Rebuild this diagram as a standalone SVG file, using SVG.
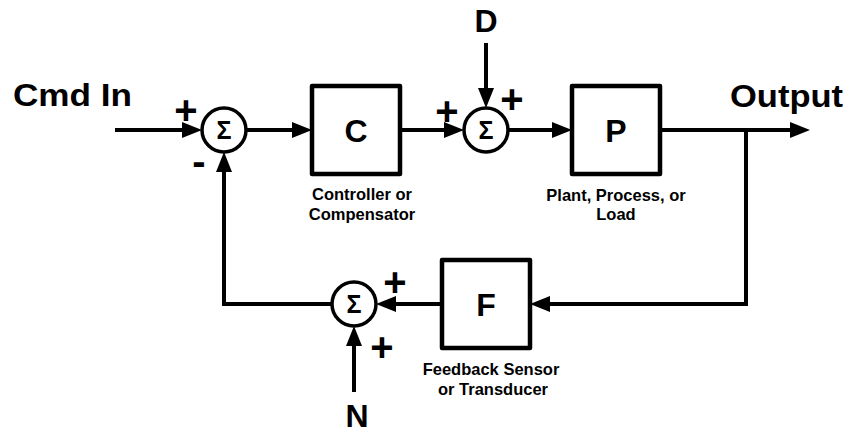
<svg xmlns="http://www.w3.org/2000/svg" width="849" height="434" viewBox="0 0 849 434">
<style>
.ln{fill:none;stroke:#000;stroke-width:4;marker-end:url(#ah)}
.box{fill:#fff;stroke:#000;stroke-width:4.5;stroke-linejoin:round}
.sum{fill:#fff;stroke:#000;stroke-width:3.5}
text{font-family:"Liberation Sans",Arial,sans-serif;font-weight:bold;fill:#000}
.big{font-size:32px}
.blk{font-size:32px;text-anchor:middle}
.sig{font-size:25px;text-anchor:middle}
.lbl{font-size:16.5px;text-anchor:middle}
.pm{font-size:40px;text-anchor:middle}
</style>
<defs>
<marker id="ah" markerUnits="userSpaceOnUse" markerWidth="20" markerHeight="16" refX="10" refY="8" orient="auto">
<path d="M0,0 L20,8 L0,16 z" fill="#000"/>
</marker>
</defs>
<g id="connectors">
<path class="ln" d="M115,130 H192"/>
<path class="ln" d="M246,130 H302"/>
<path class="ln" d="M400,130 H454"/>
<path class="ln" d="M486,43 V98"/>
<path class="ln" d="M508,130 H562"/>
<path class="ln" d="M660,130 H800"/>
<path class="ln" d="M746,128 V304 H540"/>
<path class="ln" d="M442,304 H386"/>
<path class="ln" d="M354,392 V336"/>
<path class="ln" d="M332,304 H224 V162"/>
</g>
<g id="input"><text class="big" x="13" y="106" textLength="119" lengthAdjust="spacingAndGlyphs">Cmd In</text></g>
<g id="output"><text class="big" x="730" y="107" textLength="113" lengthAdjust="spacingAndGlyphs">Output</text></g>
<g id="sum1">
<circle class="sum" cx="224" cy="130" r="22"/>
<text class="sig" x="224" y="139">Σ</text>
<text class="pm" x="186" y="124">+</text>
<text class="pm" x="199" y="175">-</text>
</g>
<g id="C">
<rect class="box" x="312" y="86" width="88" height="88"/>
<text class="blk" x="356" y="141.5">C</text>
<text class="lbl" x="362" y="200">Controller or</text>
<text class="lbl" x="362" y="220">Compensator</text>
</g>
<g id="D"><text class="blk" x="486" y="32">D</text></g>
<g id="sum2">
<circle class="sum" cx="486" cy="130" r="22"/>
<text class="sig" x="486" y="139">Σ</text>
<text class="pm" x="447" y="125">+</text>
<text class="pm" x="512" y="113">+</text>
</g>
<g id="P">
<rect class="box" x="572" y="86" width="88" height="88"/>
<text class="blk" x="616" y="141.5">P</text>
<text class="lbl" x="616" y="201">Plant, Process, or</text>
<text class="lbl" x="616" y="220">Load</text>
</g>
<g id="F">
<rect class="box" x="442" y="260" width="88" height="88"/>
<text class="blk" x="486" y="315.5">F</text>
<text class="lbl" x="491" y="375">Feedback Sensor</text>
<text class="lbl" x="493" y="395">or Transducer</text>
</g>
<g id="sum3">
<circle class="sum" cx="354" cy="304" r="22"/>
<text class="sig" x="354" y="313">Σ</text>
<text class="pm" x="395" y="296">+</text>
<text class="pm" x="382" y="361">+</text>
</g>
<g id="N"><text class="blk" x="357" y="427">N</text></g>
</svg>
